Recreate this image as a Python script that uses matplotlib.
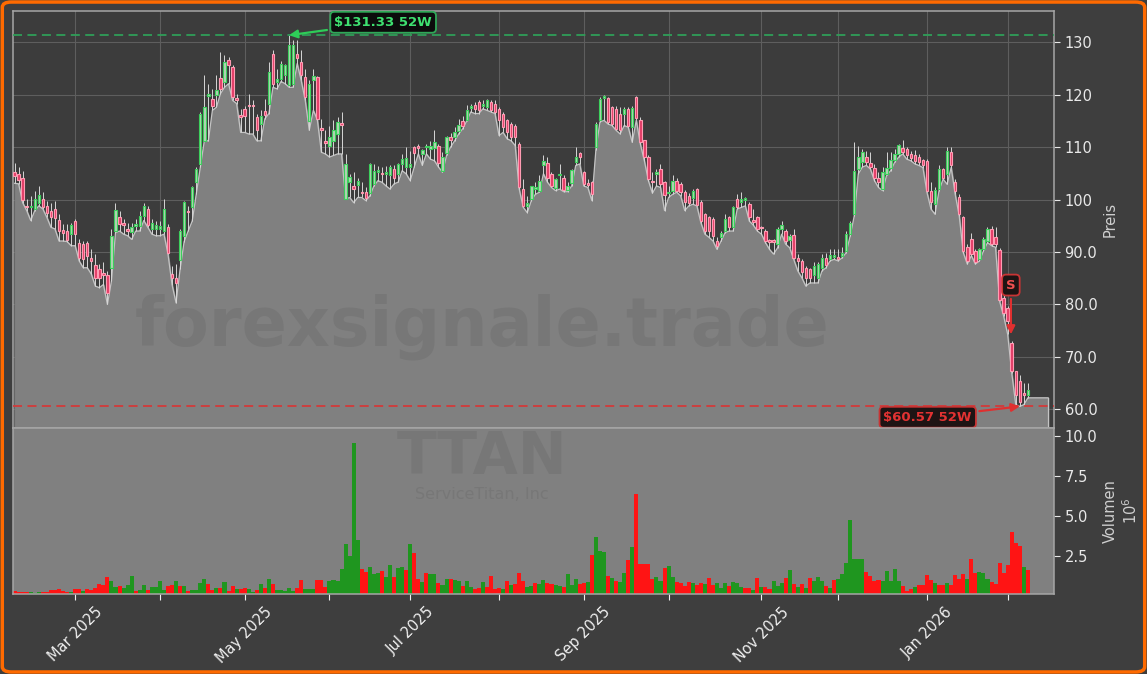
import numpy as np
import matplotlib
matplotlib.use('Agg')
import matplotlib.pyplot as plt
from matplotlib.patches import FancyBboxPatch

# TTAN daily candles, Feb 2025 - Feb 2026 (one entry per trading day)
opens = [
    105.2, 104.9, 104.2, 98.6, 98.5, 98.2, 99.3, 100.1, 98.8, 97.9,
    98.2, 96.1, 94.2, 94.0, 93.4, 96.0, 91.8, 91.5, 91.8, 88.9,
    87.6, 86.7, 86.0, 85.6, 87.0, 94.0, 96.6, 95.6, 94.3, 93.9,
    95.0, 94.9, 96.9, 98.2, 94.4, 94.4, 94.4, 94.0, 94.7, 85.9,
    85.0, 88.5, 93.0, 97.8, 98.5, 103.3, 106.8, 111.2, 119.8, 119.2,
    119.9, 123.2, 122.4, 126.6, 125.3, 119.4, 116.2, 117.3, 117.9, 117.9,
    115.8, 114.4, 116.9, 118.3, 127.8, 122.4,
    123.0, 123.7, 121.8, 122.1, 127.8, 126.2, 123.4, 115.0, 122.7, 123.4,
    113.6, 110.9, 110.3, 111.2, 112.5, 114.6, 100.1, 103.3, 102.5, 102.8,
    101.4, 101.4, 101.2, 103.0, 105.2, 104.9, 104.9, 104.6, 105.8, 104.9,
    106.8, 106.2, 106.2, 110.0, 110.1, 108.7, 110.0, 109.7, 109.8, 110.3,
    105.5, 108.8, 112.0, 111.9, 113.0, 114.9, 115.1, 117.5, 118.0, 118.6,
    117.8, 117.6, 118.6, 118.3, 117.3, 116.4, 115.1, 114.4, 114.1, 110.6,
    102.0, 98.8, 100.1, 102.0, 101.7, 106.5, 106.9,
    104.9, 102.2, 104.6, 104.1, 101.8, 103.1, 107.1, 108.8, 105.2, 102.9,
    103.3, 110.0, 115.1, 119.4, 119.4, 117.6, 117.3, 116.4, 116.4, 117.3,
    113.9, 119.5, 115.1, 111.3, 108.2, 103.6, 104.9, 105.8, 103.3, 101.2,
    101.7, 103.6, 103.0, 101.4, 100.7, 100.3, 102.0, 99.5, 97.2, 96.6,
    96.3, 92.1, 92.8, 94.0, 96.6, 94.7, 100.1, 99.5, 100.0, 99.1,
    96.0, 96.7, 94.6, 94.0, 92.1, 92.1, 91.5, 94.4, 94.0, 92.3,
    93.3, 88.9, 88.3, 87.0, 86.7, 85.7, 85.1,
    87.0, 88.9, 88.6, 89.1, 89.1, 89.3, 90.2, 93.4, 97.2, 105.8,
    107.1, 108.2, 106.9, 106.0, 104.2, 102.0, 104.9, 106.1, 107.6, 108.6,
    109.9, 109.6, 108.7, 108.4, 108.1, 107.6, 107.4, 101.7, 99.1, 102.0,
    105.8, 104.9, 109.0, 103.3, 100.5, 96.6, 90.9, 92.4, 90.2, 88.6,
    90.5, 92.1, 94.4, 92.9, 90.3, 81.3, 79.4, 72.7, 67.3, 65.4,
    63.1, 62.8,
]
highs = [
    106.9, 106.2, 105.4, 100.1, 100.7, 101.7, 102.6, 101.4, 99.8, 99.4,
    99.8, 97.2, 95.3, 95.3, 95.6, 96.3, 92.4, 92.1, 92.1, 90.5,
    89.6, 87.7, 88.0, 86.4, 94.4, 99.4, 97.9, 96.3, 95.6, 95.6,
    96.3, 97.9, 99.4, 98.8, 96.3, 96.0, 96.0, 100.1, 95.3, 87.3,
    87.7, 94.4, 99.8, 98.8, 102.6, 106.2, 116.6, 123.7, 122.1, 121.1,
    123.7, 128.1, 127.5, 127.2, 125.6, 120.2, 117.3, 117.9, 120.2, 118.9,
    116.4, 117.0, 119.2, 126.2, 128.5, 124.9,
    126.5, 125.9, 131.33, 130.4, 130.4, 128.5, 124.9, 122.7, 124.9, 123.5,
    115.4, 113.2, 114.1, 115.1, 115.7, 116.7, 108.7, 104.9, 105.2, 104.2,
    103.3, 102.3, 106.9, 106.8, 106.4, 106.2, 106.4, 106.5, 106.5, 106.9,
    108.7, 110.0, 109.3, 110.3, 110.6, 109.6, 110.6, 111.2, 113.2, 110.5,
    109.0, 112.2, 112.7, 113.8, 115.4, 116.0, 118.1, 118.3, 118.6, 118.9,
    118.9, 119.2, 118.9, 118.9, 117.6, 116.7, 115.4, 114.8, 114.4, 110.9,
    103.9, 100.7, 102.6, 103.3, 104.6, 108.4, 108.1,
    105.2, 104.2, 106.8, 104.6, 103.3, 105.8, 110.0, 109.0, 105.5, 103.9,
    103.6, 114.8, 119.5, 119.9, 119.5, 117.9, 117.9, 117.6, 117.6, 117.7,
    117.8, 119.7, 115.8, 111.4, 108.4, 105.2, 105.8, 106.8, 103.6, 102.6,
    104.7, 104.2, 103.3, 101.8, 101.2, 102.0, 102.2, 99.9, 97.5, 96.9,
    96.6, 92.8, 94.0, 97.2, 96.9, 98.8, 101.0, 101.4, 100.4, 99.5,
    98.2, 96.9, 95.0, 94.4, 92.4, 92.4, 94.7, 95.9, 94.4, 93.4,
    94.4, 89.6, 88.6, 87.3, 87.0, 88.1, 88.1,
    89.6, 89.9, 90.5, 90.5, 90.5, 90.9, 94.0, 95.9, 110.9, 110.3,
    109.7, 109.3, 109.0, 106.8, 105.2, 106.2, 109.0, 109.0, 109.7, 110.6,
    111.3, 110.0, 109.3, 109.4, 108.7, 107.8, 107.7, 103.3, 102.3, 106.6,
    106.1, 110.0, 110.0, 103.9, 101.0, 96.9, 91.5, 93.7, 90.5, 90.8,
    92.8, 94.7, 95.0, 94.7, 90.8, 81.9, 79.7, 73.0, 67.3, 66.6,
    65.0, 65.0,
]
lows = [
    103.1, 103.0, 99.4, 97.9, 96.0, 97.9, 98.8, 98.2, 96.6, 94.7,
    94.4, 92.1, 92.1, 92.0, 91.2, 91.2, 88.3, 87.0, 87.0, 85.8,
    83.5, 83.2, 83.8, 80.0, 84.5, 93.7, 94.0, 93.4, 93.1, 92.4,
    94.0, 94.0, 96.0, 94.7, 93.4, 93.1, 93.1, 93.4, 89.6, 83.8,
    80.3, 86.7, 92.0, 94.0, 95.9, 101.0, 106.2, 111.2, 111.2, 117.0,
    117.6, 120.2, 121.4, 122.1, 118.9, 118.3, 112.8, 112.8, 112.5, 112.5,
    111.2, 111.2, 115.4, 116.4, 121.4, 121.1,
    122.5, 122.1, 121.4, 121.4, 125.9, 122.7, 118.9, 113.2, 117.0, 115.2,
    109.0, 108.7, 108.1, 108.4, 108.7, 108.7, 100.1, 100.4, 99.4, 100.4,
    100.4, 99.8, 100.7, 102.6, 103.6, 103.3, 102.6, 102.0, 103.0, 103.3,
    105.5, 104.9, 103.6, 106.2, 108.7, 106.5, 108.7, 107.7, 107.4, 106.2,
    105.2, 108.4, 110.0, 111.2, 112.5, 113.5, 115.0, 116.7, 116.4, 116.4,
    117.3, 117.0, 116.7, 116.4, 112.2, 112.8, 111.6, 111.2, 110.3, 102.0,
    98.5, 97.5, 99.8, 101.0, 101.4, 104.9, 103.3,
    102.3, 101.7, 102.0, 101.5, 101.5, 102.6, 106.5, 106.8, 102.6, 102.3,
    99.8, 109.5, 114.8, 115.1, 114.4, 114.1, 113.2, 112.5, 114.1, 113.8,
    110.9, 115.1, 110.6, 107.4, 103.6, 101.2, 102.6, 102.3, 97.9, 100.4,
    101.0, 101.4, 100.7, 97.9, 98.8, 99.1, 98.8, 95.6, 93.4, 92.8,
    92.1, 90.5, 92.1, 93.7, 94.0, 94.0, 98.2, 98.5, 98.8, 95.9,
    95.1, 94.0, 93.4, 91.8, 90.5, 89.6, 90.8, 93.4, 91.5, 90.8,
    88.6, 86.4, 85.1, 83.5, 84.1, 84.1, 84.1,
    86.4, 87.0, 88.3, 88.6, 88.3, 88.9, 89.9, 93.1, 96.9, 104.9,
    106.2, 106.5, 105.8, 103.6, 102.3, 101.7, 104.6, 105.5, 107.1, 108.1,
    108.7, 107.7, 107.4, 106.8, 106.5, 106.1, 101.4, 98.2, 97.2, 101.7,
    103.9, 102.9, 106.1, 101.0, 96.9, 89.9, 87.7, 89.3, 87.7, 88.3,
    90.2, 91.8, 91.2, 90.9, 80.6, 77.8, 74.3, 67.0, 60.9, 60.57,
    60.9, 62.2,
]
closes = [
    104.4, 103.7, 99.9, 98.5, 98.6, 100.1, 100.9, 98.5, 97.5, 96.7,
    96.5, 94.0, 93.7, 92.3, 95.2, 93.4, 88.9, 88.6, 89.3, 88.3,
    85.1, 85.1, 85.6, 82.2, 93.1, 98.0, 95.4, 95.2, 94.0, 94.7,
    95.2, 96.9, 98.8, 95.2, 95.6, 95.2, 95.0, 98.2, 89.9, 85.0,
    84.0, 94.0, 99.5, 97.6, 102.3, 105.8, 116.4, 117.6, 120.0, 117.9,
    120.8, 121.1, 126.2, 125.6, 119.5, 119.0, 115.8, 116.0, 117.8, 117.8,
    113.2, 116.0, 116.2, 124.3, 122.1, 123.0,
    125.9, 125.6, 129.4, 129.4, 126.9, 123.7, 119.5, 122.0, 123.5, 115.4,
    113.2, 110.8, 112.0, 113.3, 114.8, 114.3, 106.8, 104.3, 102.0, 103.6,
    101.2, 100.3, 106.7, 105.4, 105.6, 104.8, 105.2, 106.2, 104.2, 106.7,
    107.7, 108.0, 106.8, 108.8, 109.9, 109.5, 110.1, 110.3, 110.9, 106.9,
    108.2, 112.0, 111.3, 112.8, 114.3, 114.1, 117.1, 117.8, 117.3, 117.0,
    118.3, 118.9, 117.0, 116.7, 115.1, 113.8, 112.8, 111.9, 111.9, 102.3,
    98.8, 99.4, 102.5, 102.2, 103.6, 107.3, 104.2,
    102.6, 103.9, 104.9, 101.8, 102.6, 105.6, 108.2, 108.2, 103.0, 102.8,
    101.0, 114.4, 119.2, 119.5, 114.8, 114.4, 113.5, 113.2, 117.3, 114.1,
    117.5, 115.6, 110.9, 108.1, 103.9, 103.3, 105.2, 103.0, 100.9, 101.5,
    103.6, 101.7, 101.4, 99.5, 99.3, 101.7, 99.0, 95.9, 94.0, 94.0,
    93.1, 91.2, 93.7, 96.3, 94.7, 98.5, 98.5, 100.1, 100.1, 96.6,
    95.8, 94.4, 94.5, 92.1, 92.0, 92.0, 94.4, 95.2, 92.1, 93.1,
    88.9, 88.3, 86.1, 85.1, 85.1, 87.4, 87.7,
    88.9, 87.6, 89.4, 89.3, 88.6, 89.9, 93.4, 95.6, 105.5, 108.1,
    109.0, 107.1, 106.2, 104.2, 103.3, 105.2, 106.0, 107.6, 108.6, 110.4,
    109.0, 108.4, 108.0, 107.4, 107.1, 106.5, 101.7, 99.5, 101.8, 105.8,
    104.2, 109.3, 106.5, 101.6, 97.2, 90.2, 88.3, 89.6, 88.0, 90.5,
    92.4, 94.4, 91.5, 91.5, 80.9, 78.4, 76.8, 67.3, 62.8, 61.5,
    62.8, 63.7,
]
# volume in millions of shares
volumes = [
    0.33, 0.25, 0.25, 0.25, 0.23, 0.21, 0.25, 0.25, 0.25, 0.40,
    0.40, 0.44, 0.33, 0.27, 0.27, 0.46, 0.46, 0.29, 0.44, 0.40,
    0.50, 0.77, 0.71, 1.21, 0.96, 0.54, 0.63, 0.52, 0.69, 1.27,
    0.33, 0.38, 0.71, 0.38, 0.58, 0.58, 0.94, 0.38, 0.65, 0.69,
    0.94, 0.60, 0.63, 0.33, 0.38, 0.38, 0.83, 1.06, 0.73, 0.38,
    0.50, 0.52, 0.90, 0.33, 0.63, 0.42, 0.44, 0.52, 0.42, 0.27,
    0.38, 0.75, 0.52, 1.06, 0.75, 0.38, 0.38, 0.33, 0.48, 0.31,
    0.50, 1.00, 0.44, 0.46, 0.42, 1.00, 1.00, 0.58, 0.94, 0.98,
    0.96, 1.67, 3.25, 2.50, 9.53, 3.50, 1.67, 1.52, 1.83, 1.35,
    1.42, 1.56, 1.17, 1.94, 1.21, 1.73, 1.83, 1.63, 3.25, 2.71,
    1.06, 0.90, 1.46, 1.35, 1.38, 0.79, 0.69, 1.04, 1.06, 1.00,
    0.94, 0.65, 0.94, 0.58, 0.44, 0.48, 0.88, 0.58, 1.25, 0.44,
    0.50, 0.42, 0.94, 0.69, 0.75, 1.42, 0.96, 0.58, 0.63, 0.83,
    0.75, 1.00, 0.79, 0.73, 0.69, 0.63, 0.58, 1.38, 0.69, 1.04,
    0.75, 0.79, 0.88, 2.56, 3.70, 2.83, 2.77, 1.25, 1.10, 0.96,
    0.90, 1.46, 2.25, 3.08, 6.35, 2.00, 2.00, 2.00, 1.04, 1.21,
    0.96, 1.77, 1.88, 1.21, 0.90, 0.83, 0.63, 0.90, 0.83, 0.69,
    0.79, 0.75, 1.13, 0.69, 0.83, 0.50, 0.83, 0.63, 0.90, 0.79,
    0.58, 0.50, 0.50, 0.38, 1.15, 0.58, 0.54, 0.42, 0.96, 0.63,
    0.83, 1.15, 1.63, 0.73, 0.58, 0.73, 0.50, 1.15, 0.94, 1.21,
    0.94, 0.63, 0.48, 1.00, 1.04, 1.35, 2.08, 4.75, 2.30, 2.30,
    2.30, 1.52, 1.25, 0.96, 1.00, 0.96, 1.58, 0.96, 1.67, 0.96,
    0.65, 0.33, 0.42, 0.58, 0.69, 0.69, 1.31, 1.00, 0.83, 0.69,
    0.69, 0.83, 0.69, 1.31, 1.04, 1.38, 1.04, 2.31, 1.46, 1.50,
    1.42, 1.04, 0.90, 0.75, 2.08, 1.46, 1.94, 3.98, 3.33, 3.13,
    1.79, 1.63,
]
# colour of each volume bar as seen: g = up day, r = down day
vol_dirs = ("rrrrgggrrr" "rrrrgrrgrr" "rrrrggrggg" "rggrggggrr" "grgrggggrr"
            "grgrrgrrgg" "rgrgrggggg" "rrgggrrrgg" "ggggggrrgg" "grggrggrgr"
            "rgrggrggrg" "grggrrgrrr" "rgrgrrrggr" "ggrrggrggg" "rrgrgggrgr"
            "ggrgrrrrrg" "grggrrrrgr" "rgrrgggrgg" "grrgrgrrgg" "grgrgrgrgg"
            "grgrgggggg" "grrrrggggg" "rrrgrrrrgr" "rgrrrrgrrg" "ggrrrrrrrr"
            "gr")

# first trading day of each month (index into the daily series)
month_pos = [15, 36, 57, 78, 98, 120, 141, 162, 185, 204, 226, 246]
month_lbl = ['Mar 2025', '', 'May 2025', '', 'Jul 2025', '', 'Sep 2025', '',
             'Nov 2025', '', 'Jan 2026', '']
sig_idx = 246  # sell signal day

o = np.array(opens)
h = np.array(highs)
l = np.array(lows)
c = np.array(closes)
v = np.array(volumes)
x = np.arange(len(c))

bg = '#3e3e3e'
fig = plt.figure(figsize=(11.47, 6.74), dpi=100, facecolor=bg)
ax = fig.add_axes([0.0113, 0.365, 0.9077, 0.6187], facecolor='#3c3c3c')
vax = fig.add_axes([0.0113, 0.1187, 0.9077, 0.2463], facecolor='#808080', sharex=ax)

# grey area under the lows, extended a few slots past the last day
fx = np.append(x, x[-1] + 5)
fy = np.append(l, l[-1])
ax.fill_between(fx, fy, 0, color='#808080', zorder=2)
ax.plot(fx, fy, color='#c4c4c4', lw=0.9, zorder=2.3)
ax.plot([fx[-1], fx[-1]], [0, fy[-1]], color='#c4c4c4', lw=0.9, zorder=2.3)

# candles
up = c >= o
lo = np.minimum(o, c)
bh = np.maximum(np.abs(c - o), 0.3)
ax.vlines(x, l, h, color='#d6d6d6', lw=0.7, zorder=3)
ax.bar(x[up], bh[up], bottom=lo[up], width=0.6, color='#b5d3b5',
       edgecolor='#3ccf5c', lw=0.8, zorder=4)
ax.bar(x[~up], bh[~up], bottom=lo[~up], width=0.6, color='#e23c66',
       edgecolor='#ff9cb3', lw=0.8, zorder=4)

ax.text(0.4505, 0.242, 'forexsignale.trade', transform=ax.transAxes,
        fontsize=48, fontweight='bold', color='#777777', ha='center',
        va='center', zorder=2.2)

# 52 week high / low
hi_i = int(np.argmax(h))
lo_i = int(np.argmin(l))
ax.axhline(h[hi_i], color='#2f9e58', ls=(0, (5, 3)), lw=1.3, zorder=5)
ax.axhline(l[lo_i], color='#d23a3a', ls=(0, (5, 3)), lw=1.3, zorder=5)
ax.annotate('$%.2f 52W' % h[hi_i], xy=(hi_i, h[hi_i]), xytext=(91.3, 133.8),
            ha='center', va='center', color='#3ee070', fontsize=9.5,
            fontweight='bold', zorder=7,
            bbox=dict(boxstyle='round,pad=0.3', fc='#0c0c0c', ec='#2fa858', lw=1.3),
            arrowprops=dict(arrowstyle='-|>', color='#2ecc58', lw=1.6,
                            mutation_scale=12, shrinkB=0))
ax.annotate('$%.2f 52W' % l[lo_i], xy=(lo_i, l[lo_i]), xytext=(226.2, 58.5),
            ha='center', va='center', color='#e23232', fontsize=9.5,
            fontweight='bold', zorder=7,
            bbox=dict(boxstyle='round,pad=0.3', fc='#1e1414', ec='#c83434', lw=1.3),
            arrowprops=dict(arrowstyle='-|>', color='#e03030', lw=1.6,
                            mutation_scale=12, shrinkB=0))
ax.annotate('S', xy=(sig_idx + 0.8, l[sig_idx]), xytext=(sig_idx + 0.8, 83.7),
            ha='center', va='center', color='#f05050', fontsize=9.5,
            fontweight='bold', zorder=7,
            bbox=dict(boxstyle='round,pad=0.3', fc='#1e1414', ec='#c83434', lw=1.3),
            arrowprops=dict(arrowstyle='-|>', color='#e03030', lw=1.6,
                            mutation_scale=12, shrinkB=0))

ax.set_xlim(-0.4, 257.5)
ax.set_ylim(56.45, 135.95)
ax.set_yticks(np.arange(60, 131, 10))
ax.yaxis.set_major_formatter(plt.FuncFormatter(
    lambda val, pos: '%.0f' % val if val >= 100 else '%.1f' % val))
ax.yaxis.tick_right()
ax.yaxis.set_label_position('right')
ax.set_ylabel('Preis', color='#cfcfcf', fontsize=10.5)
ax.set_xticks(month_pos)
ax.tick_params(axis='x', length=0, labelbottom=False)
ax.tick_params(axis='y', colors='#e8e8e8', labelsize=10.5, length=4)
ax.grid(True, color='#5e5e5e', lw=0.8)
ax.set_axisbelow(True)
for s in ax.spines.values():
    s.set_color('#a6a6a6')
    s.set_linewidth(1.1)

# volume
vcol = ['#1f961f' if d == 'g' else '#ff1414' for d in vol_dirs]
vax.bar(x, v, width=1.0, color=vcol, zorder=2)
vax.text(0.4505, 0.825, 'TTAN', transform=vax.transAxes, fontsize=42,
         fontweight='bold', color='#777777', ha='center', va='center', zorder=1)
vax.text(0.4505, 0.60, 'ServiceTitan, Inc', transform=vax.transAxes, fontsize=11.5,
         color='#777777', ha='center', va='center', zorder=1)
vax.set_ylim(0.13, v.max() * 1.1)
vax.set_yticks([2.5, 5.0, 7.5, 10.0])
vax.yaxis.set_major_formatter(plt.FormatStrFormatter('%.1f'))
vax.yaxis.tick_right()
vax.yaxis.set_label_position('right')
vax.set_ylabel('Volumen\n$10^6$', color='#cfcfcf', fontsize=10.5)
vax.set_xticks(month_pos)
vax.set_xticklabels(month_lbl, rotation=45, ha='center')
vax.tick_params(axis='x', colors='#f0f0f0', labelsize=10.5, length=4)
vax.tick_params(axis='y', colors='#e8e8e8', labelsize=10.5, length=4)
for s in vax.spines.values():
    s.set_color('#a6a6a6')
    s.set_linewidth(1.1)

# orange rounded frame
fig.patches.append(FancyBboxPatch((0.002, 0.003), 0.996, 0.994,
                                  boxstyle='round,pad=0,rounding_size=0.008',
                                  transform=fig.transFigure, fc='none',
                                  ec='#ff6a00', lw=2.5))

fig.savefig('out.png', dpi=100, facecolor=bg)
